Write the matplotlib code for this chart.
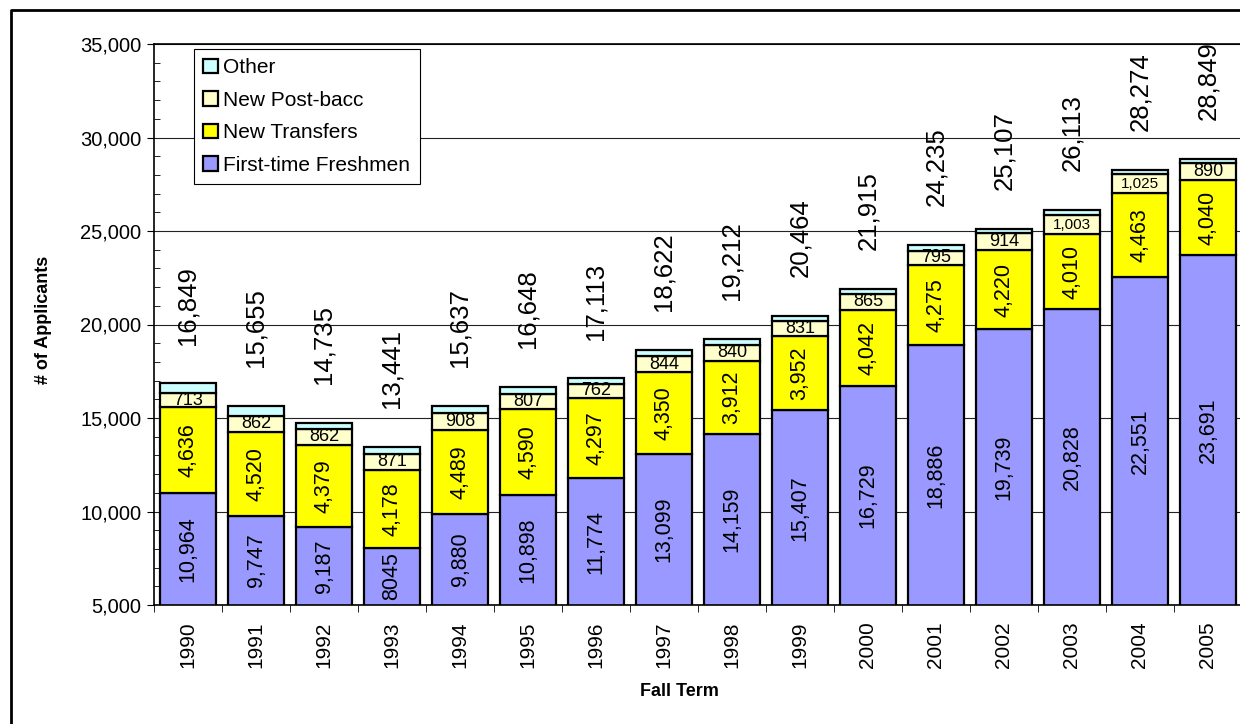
import matplotlib.pyplot as plt
import numpy as np
from matplotlib.lines import Line2D
from matplotlib.ticker import MultipleLocator, FuncFormatter

plt.rcParams['font.family'] = ['Liberation Sans', 'DejaVu Sans']

# data
years = [str(y) for y in range(1990, 2006)]
freshmen = [10964, 9747, 9187, 8045, 9880, 10898, 11774, 13099, 14159, 15407,
            16729, 18886, 19739, 20828, 22551, 23691]
transfers = [4636, 4520, 4379, 4178, 4489, 4590, 4297, 4350, 3912, 3952,
             4042, 4275, 4220, 4010, 4463, 4040]
postbacc = [713, 862, 862, 871, 908, 807, 762, 844, 840, 831,
            865, 795, 914, 1003, 1025, 890]
totals = [16849, 15655, 14735, 13441, 15637, 16648, 17113, 18622, 19212, 20464,
          21915, 24235, 25107, 26113, 28274, 28849]


def main():
    fr = np.array(freshmen)
    tr = np.array(transfers)
    pb = np.array(postbacc)
    tot = np.array(totals)
    other = tot - fr - tr - pb  # remainder on top of each bar

    fig = plt.figure(figsize=(12.4, 7.24), dpi=100)
    ax = fig.add_axes([154 / 1240, 1 - 605 / 724, 1088 / 1240, 561 / 724])

    x = np.arange(len(years))
    w = 0.82
    kw = dict(width=w, edgecolor='black', linewidth=1.6, zorder=2)
    b1 = ax.bar(x, fr, color='#9999FF', label='First-time Freshmen', **kw)
    b2 = ax.bar(x, tr, bottom=fr, color='#FFFF00', label='New Transfers', **kw)
    b3 = ax.bar(x, pb, bottom=fr + tr, color='#FFFFCC', label='New Post-bacc', **kw)
    b4 = ax.bar(x, other, bottom=fr + tr + pb, color='#CCFFFF', label='Other', **kw)

    ymin, ymax = 5000, 35000
    ax.set_ylim(ymin, ymax)
    ax.set_xlim(-0.5, len(years) - 0.5)

    # segment labels
    fr_labels = [f'{v:,}' for v in freshmen]
    fr_labels[3] = '8045'  # shown without comma in the source
    for i in x:
        ax.text(i, (ymin + fr[i]) / 2, fr_labels[i], rotation=90, ha='center',
                va='center', fontsize=15.5, zorder=3)
        ax.text(i, fr[i] + tr[i] / 2, f'{tr[i]:,}', rotation=90, ha='center',
                va='center', fontsize=15.5, zorder=3)
        ax.text(i, fr[i] + tr[i] + pb[i] / 2, f'{pb[i]:,}', ha='center',
                va='center', fontsize=13 if pb[i] < 1000 else 11, zorder=3)
        ax.annotate(f'{tot[i]:,}', (i, tot[i]), xytext=(0, 28),
                    textcoords='offset points', rotation=90, ha='center',
                    va='bottom', fontsize=18.5, annotation_clip=False)

    # axes styling
    ax.set_axisbelow(True)
    ax.yaxis.grid(True, which='major', color='#222222', linewidth=0.8)
    ax.yaxis.set_major_locator(MultipleLocator(5000))
    ax.yaxis.set_minor_locator(MultipleLocator(1000))
    ax.yaxis.set_major_formatter(FuncFormatter(lambda v, p: f'{int(v):,}'))
    ax.tick_params(axis='y', which='major', direction='out', length=5,
                   labelsize=14.5, pad=4)
    ax.tick_params(axis='y', which='minor', direction='in', length=4)

    ax.set_xticks(x)
    ax.set_xticklabels(years, rotation=90, fontsize=15)
    ax.set_xticks(np.arange(len(years) + 1) - 0.5, minor=True)
    ax.tick_params(axis='x', which='major', length=0, pad=12)
    ax.tick_params(axis='x', which='minor', direction='out', length=5)
    for s in ax.spines.values():
        s.set_color('black')
        s.set_linewidth(1.2)

    fig.text(43 / 1240, 1 - 320 / 724, '# of Applicants', rotation=90,
             ha='center', va='center', fontsize=13, fontweight='bold')
    fig.text(679 / 1240, 1 - 692 / 724, 'Fall Term', ha='center',
             va='center', fontsize=13, fontweight='bold')

    leg = ax.legend(handles=[b4, b3, b2, b1], loc='upper left',
                    bbox_to_anchor=(194 / 1240, 1 - 49 / 724),
                    bbox_transform=fig.transFigure, fontsize=15,
                    frameon=True, fancybox=False, framealpha=1,
                    edgecolor='black', handlelength=0.7, handleheight=0.7,
                    handletextpad=0.25, labelspacing=0.65, borderpad=0.45,
                    borderaxespad=0)
    leg.get_frame().set_linewidth(0.8)
    leg.set_zorder(5)

    # outer chart border (right/bottom edges fall outside the image)
    fx = 11 / 1240
    fy = 1 - 10 / 724
    fig.add_artist(Line2D([fx, fx, 1.01], [-0.01, fy, fy], color='black',
                          linewidth=2, transform=fig.transFigure))

    fig.savefig('out.png', dpi=100)


if __name__ == "__main__":
    main()
